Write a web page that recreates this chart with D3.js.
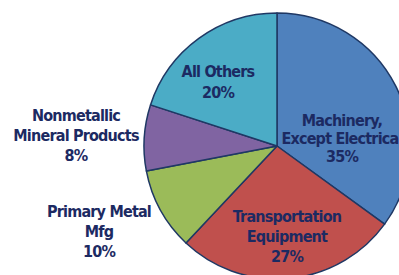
<!DOCTYPE html>
<html>
<head>
<meta charset="utf-8">
<script src="https://cdn.jsdelivr.net/npm/d3@7"></script>
<style>
  body { margin: 0; background: #fff; }
  svg { display: block; }
  text { font-family: "Liberation Sans Narrow", "DejaVu Sans Condensed", sans-serif; font-weight: bold; fill: #1c2a62; }
</style>
</head>
<body>
<svg id="svg"></svg>
<script>
var categories = ["Machinery, Except Electrical", "Transportation Equipment", "Primary Metal Mfg", "Nonmetallic Mineral Products", "All Others"];
var values = [35, 27, 10, 8, 20];
var colors = ["#4f81bd", "#c0504d", "#9bbb59", "#8064a2", "#4bacc6"];
// label lines and where each label block sits (first baseline)
var labelLines = [
    ["Machinery,", "Except Electrical", "35%"],
    ["Transportation", "Equipment", "27%"],
    ["Primary Metal", "Mfg", "10%"],
    ["Nonmetallic", "Mineral Products", "8%"],
    ["All Others", "20%"]
];
var labelPos = [[342, 126], [287, 222], [99, 217], [76, 121], [218, 77]];
var lineGap = [18, 20, 20, 20, 21];

var width = 399, height = 275;
var svg = d3.select("#svg").attr("width", width).attr("height", height);

var cx = 277, cy = 146, r = 133;

var pie = d3.pie().sort(null).value(function(d) { return d; });
var arc = d3.arc().innerRadius(0).outerRadius(r);

var g = svg.append("g").attr("transform", "translate(" + cx + "," + cy + ")");

g.selectAll("path")
    .data(pie(values))
    .enter().append("path")
    .attr("d", arc)
    .attr("fill", function(d, i) { return colors[i]; })
    .attr("stroke", "#1f3864")
    .attr("stroke-width", 1.5)
    .attr("stroke-linejoin", "round");

var labels = svg.selectAll(".lbl")
    .data(labelLines)
    .enter().append("text")
    .attr("class", "lbl")
    .attr("text-anchor", "middle")
    .attr("font-size", 16)
    .attr("letter-spacing", -0.8)
    .attr("x", function(d, i) { return labelPos[i][0]; })
    .attr("y", function(d, i) { return labelPos[i][1]; });

labels.each(function(lines, i) {
    var t = d3.select(this);
    lines.forEach(function(s, j) {
        t.append("tspan")
            .attr("x", labelPos[i][0])
            .attr("y", labelPos[i][1] + j * lineGap[i])
            .text(s);
    });
});
</script>
</body>
</html>
